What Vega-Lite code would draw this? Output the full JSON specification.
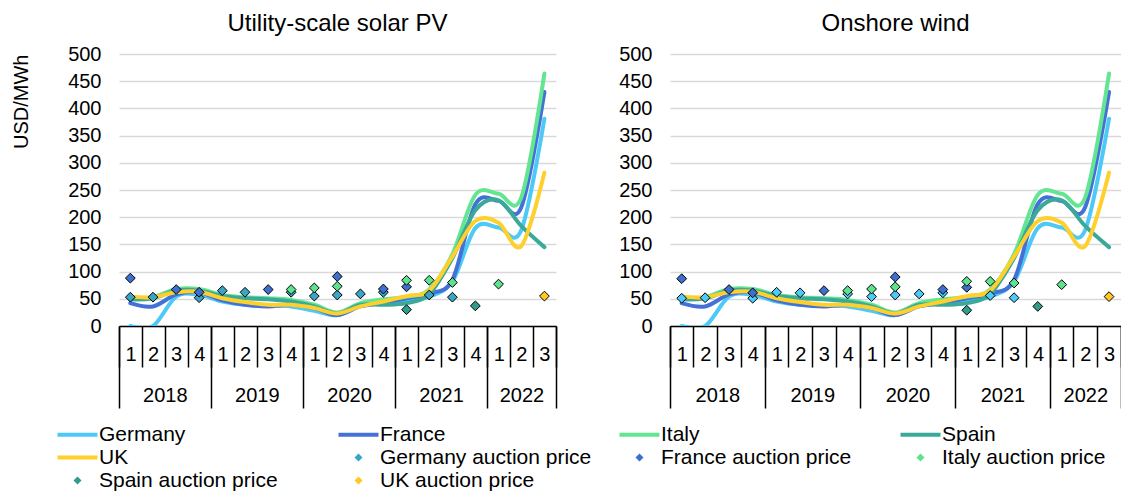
{
  "$schema": "https://vega.github.io/schema/vega-lite/v6.json",
  "padding": {"left": 11, "top": 12, "right": 0, "bottom": 0},
  "spacing": 50,
  "config": {
    "font": "Liberation Sans",
    "view": {"stroke": null},
    "title": {"fontSize": 24, "fontWeight": "normal", "color": "black", "offset": 8, "anchor": "middle"},
    "axisY": {"labelFontSize": 20, "labelColor": "black", "labelPadding": 18, "domain": false, "ticks": false, "grid": true, "gridColor": "#D9D9D9", "gridWidth": 1.3, "titleFontSize": 20, "titleFontWeight": "normal", "titleColor": "black"},
    "axisX": {"orient": "bottom", "title": null, "grid": false, "labelFontSize": 20, "labelColor": "black", "labelFlush": false, "labelOverlap": false, "labelBound": false, "labelAlign": "center", "tickColor": "black", "tickWidth": 1.5, "domainColor": "black", "domainWidth": 1.5}
  },
  "datasets": {
    "lines": [
      {"date": "2018-02-15", "series": "Germany", "value": 0},
      {"date": "2018-05-16", "series": "Germany", "value": 0},
      {"date": "2018-08-16", "series": "Germany", "value": 54},
      {"date": "2018-11-15", "series": "Germany", "value": 57},
      {"date": "2019-02-15", "series": "Germany", "value": 45},
      {"date": "2019-05-16", "series": "Germany", "value": 39},
      {"date": "2019-08-16", "series": "Germany", "value": 38},
      {"date": "2019-11-15", "series": "Germany", "value": 36},
      {"date": "2020-02-15", "series": "Germany", "value": 28},
      {"date": "2020-05-16", "series": "Germany", "value": 20},
      {"date": "2020-08-16", "series": "Germany", "value": 39},
      {"date": "2020-11-15", "series": "Germany", "value": 42},
      {"date": "2021-02-15", "series": "Germany", "value": 45},
      {"date": "2021-05-16", "series": "Germany", "value": 54},
      {"date": "2021-08-16", "series": "Germany", "value": 82},
      {"date": "2021-11-15", "series": "Germany", "value": 180},
      {"date": "2022-02-15", "series": "Germany", "value": 181},
      {"date": "2022-05-16", "series": "Germany", "value": 176},
      {"date": "2022-08-16", "series": "Germany", "value": 381},
      {"date": "2018-02-15", "series": "France", "value": 42},
      {"date": "2018-05-16", "series": "France", "value": 36},
      {"date": "2018-08-16", "series": "France", "value": 58},
      {"date": "2018-11-15", "series": "France", "value": 62},
      {"date": "2019-02-15", "series": "France", "value": 47},
      {"date": "2019-05-16", "series": "France", "value": 39},
      {"date": "2019-08-16", "series": "France", "value": 36},
      {"date": "2019-11-15", "series": "France", "value": 39},
      {"date": "2020-02-15", "series": "France", "value": 33},
      {"date": "2020-05-16", "series": "France", "value": 20},
      {"date": "2020-08-16", "series": "France", "value": 36},
      {"date": "2020-11-15", "series": "France", "value": 42},
      {"date": "2021-02-15", "series": "France", "value": 51},
      {"date": "2021-05-16", "series": "France", "value": 60},
      {"date": "2021-08-16", "series": "France", "value": 85},
      {"date": "2021-11-15", "series": "France", "value": 224},
      {"date": "2022-02-15", "series": "France", "value": 230},
      {"date": "2022-05-16", "series": "France", "value": 218},
      {"date": "2022-08-16", "series": "France", "value": 430},
      {"date": "2018-02-15", "series": "Italy", "value": 51},
      {"date": "2018-05-16", "series": "Italy", "value": 53},
      {"date": "2018-08-16", "series": "Italy", "value": 68},
      {"date": "2018-11-15", "series": "Italy", "value": 68},
      {"date": "2019-02-15", "series": "Italy", "value": 57},
      {"date": "2019-05-16", "series": "Italy", "value": 53},
      {"date": "2019-08-16", "series": "Italy", "value": 51},
      {"date": "2019-11-15", "series": "Italy", "value": 48},
      {"date": "2020-02-15", "series": "Italy", "value": 39},
      {"date": "2020-05-16", "series": "Italy", "value": 25},
      {"date": "2020-08-16", "series": "Italy", "value": 42},
      {"date": "2020-11-15", "series": "Italy", "value": 49},
      {"date": "2021-02-15", "series": "Italy", "value": 54},
      {"date": "2021-05-16", "series": "Italy", "value": 67},
      {"date": "2021-08-16", "series": "Italy", "value": 132},
      {"date": "2021-11-15", "series": "Italy", "value": 241},
      {"date": "2022-02-15", "series": "Italy", "value": 243},
      {"date": "2022-05-16", "series": "Italy", "value": 236},
      {"date": "2022-08-16", "series": "Italy", "value": 464},
      {"date": "2018-02-15", "series": "Spain", "value": 49},
      {"date": "2018-05-16", "series": "Spain", "value": 51},
      {"date": "2018-08-16", "series": "Spain", "value": 65},
      {"date": "2018-11-15", "series": "Spain", "value": 65},
      {"date": "2019-02-15", "series": "Spain", "value": 55},
      {"date": "2019-05-16", "series": "Spain", "value": 51},
      {"date": "2019-08-16", "series": "Spain", "value": 49},
      {"date": "2019-11-15", "series": "Spain", "value": 45},
      {"date": "2020-02-15", "series": "Spain", "value": 36},
      {"date": "2020-05-16", "series": "Spain", "value": 23},
      {"date": "2020-08-16", "series": "Spain", "value": 39},
      {"date": "2020-11-15", "series": "Spain", "value": 39},
      {"date": "2021-02-15", "series": "Spain", "value": 42},
      {"date": "2021-05-16", "series": "Spain", "value": 59},
      {"date": "2021-08-16", "series": "Spain", "value": 125},
      {"date": "2021-11-15", "series": "Spain", "value": 213},
      {"date": "2022-02-15", "series": "Spain", "value": 231},
      {"date": "2022-05-16", "series": "Spain", "value": 184},
      {"date": "2022-08-16", "series": "Spain", "value": 145},
      {"date": "2018-02-15", "series": "UK", "value": 54},
      {"date": "2018-05-16", "series": "UK", "value": 53},
      {"date": "2018-08-16", "series": "UK", "value": 62},
      {"date": "2018-11-15", "series": "UK", "value": 63},
      {"date": "2019-02-15", "series": "UK", "value": 51},
      {"date": "2019-05-16", "series": "UK", "value": 44},
      {"date": "2019-08-16", "series": "UK", "value": 39},
      {"date": "2019-11-15", "series": "UK", "value": 39},
      {"date": "2020-02-15", "series": "UK", "value": 33},
      {"date": "2020-05-16", "series": "UK", "value": 23},
      {"date": "2020-08-16", "series": "UK", "value": 36},
      {"date": "2020-11-15", "series": "UK", "value": 45},
      {"date": "2021-02-15", "series": "UK", "value": 55},
      {"date": "2021-05-16", "series": "UK", "value": 65},
      {"date": "2021-08-16", "series": "UK", "value": 128},
      {"date": "2021-11-15", "series": "UK", "value": 193},
      {"date": "2022-02-15", "series": "UK", "value": 190},
      {"date": "2022-05-16", "series": "UK", "value": 147},
      {"date": "2022-08-16", "series": "UK", "value": 282}
    ],
    "auctions": [
      {"tech": "Utility-scale solar PV", "date": "2018-02-15", "series": "Germany auction price", "value": 53},
      {"tech": "Utility-scale solar PV", "date": "2018-05-16", "series": "Germany auction price", "value": 53},
      {"tech": "Utility-scale solar PV", "date": "2018-11-15", "series": "Germany auction price", "value": 52},
      {"tech": "Utility-scale solar PV", "date": "2019-02-15", "series": "Germany auction price", "value": 65},
      {"tech": "Utility-scale solar PV", "date": "2019-05-16", "series": "Germany auction price", "value": 62},
      {"tech": "Utility-scale solar PV", "date": "2019-11-15", "series": "Germany auction price", "value": 62},
      {"tech": "Utility-scale solar PV", "date": "2020-02-15", "series": "Germany auction price", "value": 55},
      {"tech": "Utility-scale solar PV", "date": "2020-05-16", "series": "Germany auction price", "value": 57},
      {"tech": "Utility-scale solar PV", "date": "2020-08-16", "series": "Germany auction price", "value": 59},
      {"tech": "Utility-scale solar PV", "date": "2020-11-15", "series": "Germany auction price", "value": 62},
      {"tech": "Utility-scale solar PV", "date": "2021-05-16", "series": "Germany auction price", "value": 57},
      {"tech": "Utility-scale solar PV", "date": "2021-08-16", "series": "Germany auction price", "value": 53},
      {"tech": "Utility-scale solar PV", "date": "2018-02-15", "series": "France auction price", "value": 88},
      {"tech": "Utility-scale solar PV", "date": "2018-08-16", "series": "France auction price", "value": 67},
      {"tech": "Utility-scale solar PV", "date": "2018-11-15", "series": "France auction price", "value": 62},
      {"tech": "Utility-scale solar PV", "date": "2019-08-16", "series": "France auction price", "value": 67},
      {"tech": "Utility-scale solar PV", "date": "2020-05-16", "series": "France auction price", "value": 91},
      {"tech": "Utility-scale solar PV", "date": "2020-11-15", "series": "France auction price", "value": 68},
      {"tech": "Utility-scale solar PV", "date": "2021-02-15", "series": "France auction price", "value": 72},
      {"tech": "Utility-scale solar PV", "date": "2019-11-15", "series": "Italy auction price", "value": 67},
      {"tech": "Utility-scale solar PV", "date": "2020-02-15", "series": "Italy auction price", "value": 70},
      {"tech": "Utility-scale solar PV", "date": "2020-05-16", "series": "Italy auction price", "value": 73},
      {"tech": "Utility-scale solar PV", "date": "2021-02-15", "series": "Italy auction price", "value": 84},
      {"tech": "Utility-scale solar PV", "date": "2021-05-16", "series": "Italy auction price", "value": 84},
      {"tech": "Utility-scale solar PV", "date": "2021-08-16", "series": "Italy auction price", "value": 80},
      {"tech": "Utility-scale solar PV", "date": "2022-02-15", "series": "Italy auction price", "value": 77},
      {"tech": "Utility-scale solar PV", "date": "2021-02-15", "series": "Spain auction price", "value": 30},
      {"tech": "Utility-scale solar PV", "date": "2021-11-15", "series": "Spain auction price", "value": 37},
      {"tech": "Utility-scale solar PV", "date": "2022-08-16", "series": "UK auction price", "value": 55},
      {"tech": "Onshore wind", "date": "2018-02-15", "series": "Germany auction price", "value": 51},
      {"tech": "Onshore wind", "date": "2018-05-16", "series": "Germany auction price", "value": 52},
      {"tech": "Onshore wind", "date": "2018-11-15", "series": "Germany auction price", "value": 51},
      {"tech": "Onshore wind", "date": "2019-02-15", "series": "Germany auction price", "value": 62},
      {"tech": "Onshore wind", "date": "2019-05-16", "series": "Germany auction price", "value": 61},
      {"tech": "Onshore wind", "date": "2019-11-15", "series": "Germany auction price", "value": 59},
      {"tech": "Onshore wind", "date": "2020-02-15", "series": "Germany auction price", "value": 54},
      {"tech": "Onshore wind", "date": "2020-05-16", "series": "Germany auction price", "value": 57},
      {"tech": "Onshore wind", "date": "2020-08-16", "series": "Germany auction price", "value": 59},
      {"tech": "Onshore wind", "date": "2020-11-15", "series": "Germany auction price", "value": 61},
      {"tech": "Onshore wind", "date": "2021-05-16", "series": "Germany auction price", "value": 56},
      {"tech": "Onshore wind", "date": "2021-08-16", "series": "Germany auction price", "value": 52},
      {"tech": "Onshore wind", "date": "2018-02-15", "series": "France auction price", "value": 87},
      {"tech": "Onshore wind", "date": "2018-08-16", "series": "France auction price", "value": 67},
      {"tech": "Onshore wind", "date": "2018-11-15", "series": "France auction price", "value": 61},
      {"tech": "Onshore wind", "date": "2019-08-16", "series": "France auction price", "value": 65},
      {"tech": "Onshore wind", "date": "2020-05-16", "series": "France auction price", "value": 90},
      {"tech": "Onshore wind", "date": "2020-11-15", "series": "France auction price", "value": 67},
      {"tech": "Onshore wind", "date": "2021-02-15", "series": "France auction price", "value": 71},
      {"tech": "Onshore wind", "date": "2019-11-15", "series": "Italy auction price", "value": 65},
      {"tech": "Onshore wind", "date": "2020-02-15", "series": "Italy auction price", "value": 68},
      {"tech": "Onshore wind", "date": "2020-05-16", "series": "Italy auction price", "value": 72},
      {"tech": "Onshore wind", "date": "2021-02-15", "series": "Italy auction price", "value": 82},
      {"tech": "Onshore wind", "date": "2021-05-16", "series": "Italy auction price", "value": 82},
      {"tech": "Onshore wind", "date": "2021-08-16", "series": "Italy auction price", "value": 79},
      {"tech": "Onshore wind", "date": "2022-02-15", "series": "Italy auction price", "value": 76},
      {"tech": "Onshore wind", "date": "2021-02-15", "series": "Spain auction price", "value": 29},
      {"tech": "Onshore wind", "date": "2021-11-15", "series": "Spain auction price", "value": 36},
      {"tech": "Onshore wind", "date": "2022-08-16", "series": "UK auction price", "value": 54}
    ]
  },
  "hconcat": [
    {
      "title": {"text": "Utility-scale solar PV"},
      "width": 437,
      "height": 272,
      "resolve": {"axis": {"x": "independent"}},
      "layer": [
        {
          "data": {"name": "lines"},
          "mark": {"type": "line", "interpolate": "cardinal", "strokeWidth": 4, "strokeCap": "round", "clip": true},
          "encoding": {
            "x": {"field": "date", "type": "temporal",
              "scale": {"domain": [{"year": 2018, "month": 1, "date": 1}, {"year": 2022, "month": 10, "date": 1}]},
              "axis": {"orient": "bottom",
                "values": [{"year": 2018, "month": 1, "date": 1}, {"year": 2018, "month": 4, "date": 1}, {"year": 2018, "month": 7, "date": 1}, {"year": 2018, "month": 10, "date": 1},
                           {"year": 2019, "month": 1, "date": 1}, {"year": 2019, "month": 4, "date": 1}, {"year": 2019, "month": 7, "date": 1}, {"year": 2019, "month": 10, "date": 1},
                           {"year": 2020, "month": 1, "date": 1}, {"year": 2020, "month": 4, "date": 1}, {"year": 2020, "month": 7, "date": 1}, {"year": 2020, "month": 10, "date": 1},
                           {"year": 2021, "month": 1, "date": 1}, {"year": 2021, "month": 4, "date": 1}, {"year": 2021, "month": 7, "date": 1}, {"year": 2021, "month": 10, "date": 1},
                           {"year": 2022, "month": 1, "date": 1}, {"year": 2022, "month": 4, "date": 1}, {"year": 2022, "month": 7, "date": 1}, {"year": 2022, "month": 10, "date": 1}],
                "labelExpr": "(year(datum.value) == 2022 && month(datum.value) == 9) ? '' : '' + quarter(datum.value)",
                "tickSize": 41, "labelOffset": 11.5, "labelPadding": -22.6}},
            "y": {"field": "value", "type": "quantitative", "scale": {"domain": [0, 500]},
              "axis": {"title": "USD/MWh", "titleAnchor": "end", "titlePadding": 36, "values": [0, 50, 100, 150, 200, 250, 300, 350, 400, 450, 500]}},
            "color": {"field": "series", "type": "nominal",
              "scale": {"domain": ["Germany", "France", "Italy", "Spain", "UK", "Germany auction price", "France auction price", "Italy auction price", "Spain auction price", "UK auction price"],
                        "range": ["#4CC9F7", "#4371D6", "#63E592", "#3AA99A", "#FFD02C", "#3AA5C5", "#3D6FCF", "#5DE38E", "#2F9C8C", "#FFC822"]},
              "legend": {"title": null, "orient": "none", "legendX": -52, "legendY": 370, "columns": 4, "direction": "horizontal", "gridAlign": "all",
                "columnPadding": 27, "rowPadding": 1, "padding": 0, "symbolSize": 100, "labelFontSize": 21, "labelLimit": 400,
                "labelOffset": 11, "labelColor": "black", "symbolStrokeWidth": 0, "symbolOpacity": 1}}
          }
        },
        {
          "data": {"name": "auctions"},
          "transform": [{"filter": "datum.tech === 'Utility-scale solar PV' && indexof(['Germany auction price','France auction price','Italy auction price'], datum.series) >= 0"}],
          "mark": {"type": "point", "filled": true, "size": 150, "stroke": "black", "strokeWidth": 1, "opacity": 1},
          "encoding": {
            "x": {"field": "date", "type": "temporal",
              "scale": {"domain": [{"year": 2018, "month": 1, "date": 1}, {"year": 2022, "month": 10, "date": 1}]},
              "axis": {"orient": "bottom", "domain": false, "ticks": false,
                "values": [{"year": 2018, "month": 7, "date": 2}, {"year": 2019, "month": 7, "date": 2}, {"year": 2020, "month": 7, "date": 2}, {"year": 2021, "month": 7, "date": 2}, {"year": 2022, "month": 5, "date": 17}],
                "labelExpr": "'' + year(datum.value)",
                "labelPadding": 59.4}},
            "y": {"field": "value", "type": "quantitative", "scale": {"domain": [0, 500]},
              "axis": {"title": "USD/MWh", "titleAnchor": "end", "titlePadding": 36, "values": [0, 50, 100, 150, 200, 250, 300, 350, 400, 450, 500]}},
            "color": {"field": "series", "type": "nominal"},
            "shape": {"field": "series", "type": "nominal",
              "scale": {"domain": ["Germany", "France", "Italy", "Spain", "UK", "Germany auction price", "France auction price", "Italy auction price", "Spain auction price", "UK auction price"],
                        "range": ["M-4,-0.4L4,-0.4L4,0.4L-4,0.4Z", "M-4,-0.4L4,-0.4L4,0.4L-4,0.4Z", "M-4,-0.4L4,-0.4L4,0.4L-4,0.4Z", "M-4,-0.4L4,-0.4L4,0.4L-4,0.4Z", "M-4,-0.4L4,-0.4L4,0.4L-4,0.4Z",
                                  "M-0.8,0L0,-0.8L0.8,0L0,0.8Z", "M-0.8,0L0,-0.8L0.8,0L0,0.8Z", "M-0.8,0L0,-0.8L0.8,0L0,0.8Z", "M-0.8,0L0,-0.8L0.8,0L0,0.8Z", "M-0.8,0L0,-0.8L0.8,0L0,0.8Z"]},
              "legend": {"title": null, "orient": "none", "legendX": -52, "legendY": 370, "columns": 4, "direction": "horizontal", "gridAlign": "all",
                "columnPadding": 27, "rowPadding": 1, "padding": 0, "symbolSize": 100, "labelFontSize": 21, "labelLimit": 400,
                "labelOffset": 11, "labelColor": "black", "symbolStrokeWidth": 0, "symbolOpacity": 1}}
          }
        },
        {
          "data": {"name": "auctions"},
          "transform": [{"filter": "datum.tech === 'Utility-scale solar PV' && indexof(['Spain auction price','UK auction price'], datum.series) >= 0"}],
          "mark": {"type": "point", "filled": true, "size": 150, "stroke": "black", "strokeWidth": 1, "opacity": 1},
          "encoding": {
            "x": {"field": "date", "type": "temporal",
              "scale": {"domain": [{"year": 2018, "month": 1, "date": 1}, {"year": 2022, "month": 10, "date": 1}]},
              "axis": {"orient": "bottom", "domain": false, "labels": false, "tickSize": 82,
                "values": [{"year": 2018, "month": 1, "date": 1}, {"year": 2019, "month": 1, "date": 1}, {"year": 2020, "month": 1, "date": 1}, {"year": 2021, "month": 1, "date": 1}, {"year": 2022, "month": 1, "date": 1}, {"year": 2022, "month": 10, "date": 1}]}},
            "y": {"field": "value", "type": "quantitative", "scale": {"domain": [0, 500]},
              "axis": {"title": "USD/MWh", "titleAnchor": "end", "titlePadding": 36, "values": [0, 50, 100, 150, 200, 250, 300, 350, 400, 450, 500]}},
            "color": {"field": "series", "type": "nominal"},
            "shape": {"field": "series", "type": "nominal"}
          }
        }
      ]
    },
    {
      "title": {"text": "Onshore wind"},
      "width": 451,
      "height": 272,
      "resolve": {"axis": {"x": "independent"}},
      "layer": [
        {
          "data": {"name": "lines"},
          "mark": {"type": "line", "interpolate": "cardinal", "strokeWidth": 4, "strokeCap": "round", "clip": true},
          "encoding": {
            "x": {"field": "date", "type": "temporal",
              "scale": {"domain": [{"year": 2018, "month": 1, "date": 1}, {"year": 2022, "month": 10, "date": 1}]},
              "axis": {"orient": "bottom",
                "values": [{"year": 2018, "month": 1, "date": 1}, {"year": 2018, "month": 4, "date": 1}, {"year": 2018, "month": 7, "date": 1}, {"year": 2018, "month": 10, "date": 1},
                           {"year": 2019, "month": 1, "date": 1}, {"year": 2019, "month": 4, "date": 1}, {"year": 2019, "month": 7, "date": 1}, {"year": 2019, "month": 10, "date": 1},
                           {"year": 2020, "month": 1, "date": 1}, {"year": 2020, "month": 4, "date": 1}, {"year": 2020, "month": 7, "date": 1}, {"year": 2020, "month": 10, "date": 1},
                           {"year": 2021, "month": 1, "date": 1}, {"year": 2021, "month": 4, "date": 1}, {"year": 2021, "month": 7, "date": 1}, {"year": 2021, "month": 10, "date": 1},
                           {"year": 2022, "month": 1, "date": 1}, {"year": 2022, "month": 4, "date": 1}, {"year": 2022, "month": 7, "date": 1}, {"year": 2022, "month": 10, "date": 1}],
                "labelExpr": "(year(datum.value) == 2022 && month(datum.value) == 9) ? '' : '' + quarter(datum.value)",
                "tickSize": 41, "labelOffset": 11.9, "labelPadding": -22.6}},
            "y": {"field": "value", "type": "quantitative", "scale": {"domain": [0, 500]},
              "axis": {"title": null, "values": [0, 50, 100, 150, 200, 250, 300, 350, 400, 450, 500]}},
            "color": {"field": "series", "type": "nominal"}
          }
        },
        {
          "data": {"name": "auctions"},
          "transform": [{"filter": "datum.tech === 'Onshore wind' && indexof(['Germany auction price','France auction price','Italy auction price'], datum.series) >= 0"}],
          "mark": {"type": "point", "filled": true, "size": 150, "stroke": "black", "strokeWidth": 1, "opacity": 1},
          "encoding": {
            "x": {"field": "date", "type": "temporal",
              "scale": {"domain": [{"year": 2018, "month": 1, "date": 1}, {"year": 2022, "month": 10, "date": 1}]},
              "axis": {"orient": "bottom", "domain": false, "ticks": false,
                "values": [{"year": 2018, "month": 7, "date": 2}, {"year": 2019, "month": 7, "date": 2}, {"year": 2020, "month": 7, "date": 2}, {"year": 2021, "month": 7, "date": 2}, {"year": 2022, "month": 5, "date": 17}],
                "labelExpr": "'' + year(datum.value)",
                "labelPadding": 59.4}},
            "y": {"field": "value", "type": "quantitative", "scale": {"domain": [0, 500]},
              "axis": {"title": null, "values": [0, 50, 100, 150, 200, 250, 300, 350, 400, 450, 500]}},
            "color": {"condition": {"test": "datum.series === 'Germany auction price'", "value": "#4CCBF6"}, "field": "series", "type": "nominal"},
            "shape": {"field": "series", "type": "nominal"}
          }
        },
        {
          "data": {"name": "auctions"},
          "transform": [{"filter": "datum.tech === 'Onshore wind' && indexof(['Spain auction price','UK auction price'], datum.series) >= 0"}],
          "mark": {"type": "point", "filled": true, "size": 150, "stroke": "black", "strokeWidth": 1, "opacity": 1},
          "encoding": {
            "x": {"field": "date", "type": "temporal",
              "scale": {"domain": [{"year": 2018, "month": 1, "date": 1}, {"year": 2022, "month": 10, "date": 1}]},
              "axis": {"orient": "bottom", "domain": false, "labels": false, "tickSize": 82,
                "values": [{"year": 2018, "month": 1, "date": 1}, {"year": 2019, "month": 1, "date": 1}, {"year": 2020, "month": 1, "date": 1}, {"year": 2021, "month": 1, "date": 1}, {"year": 2022, "month": 1, "date": 1}, {"year": 2022, "month": 10, "date": 1}]}},
            "y": {"field": "value", "type": "quantitative", "scale": {"domain": [0, 500]},
              "axis": {"title": null, "values": [0, 50, 100, 150, 200, 250, 300, 350, 400, 450, 500]}},
            "color": {"field": "series", "type": "nominal"},
            "shape": {"field": "series", "type": "nominal"}
          }
        }
      ]
    }
  ],
  "resolve": {"scale": {"color": "shared", "shape": "shared"}}
}
